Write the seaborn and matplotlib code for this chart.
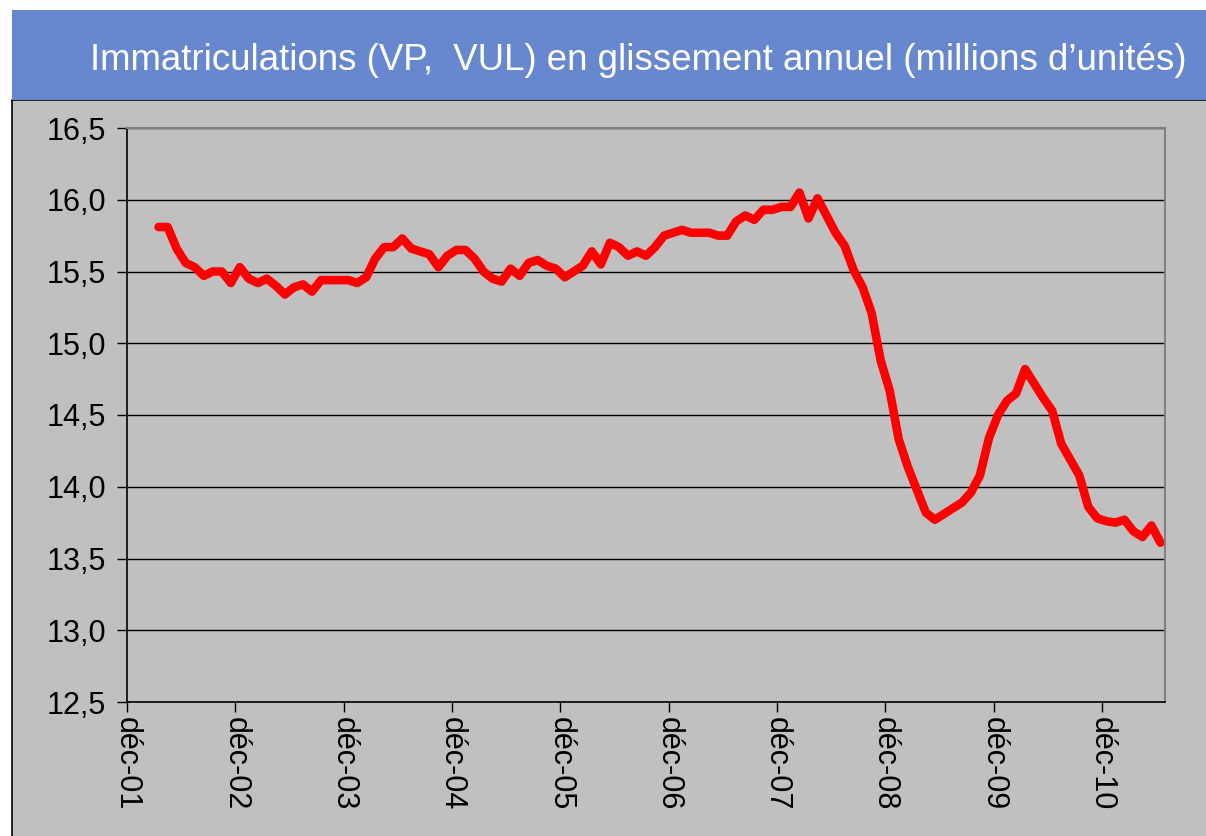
import numpy as np
import pandas as pd
import matplotlib
matplotlib.use("Agg")
import matplotlib.pyplot as plt
from matplotlib.patches import Rectangle
import seaborn as sns

# ---- data (monthly, mars-02 .. juin-11), millions of units ----
values = [
    15.81, 15.81, 15.66, 15.56, 15.53, 15.47, 15.50, 15.50, 15.42, 15.53,
    15.45, 15.42, 15.45, 15.40, 15.34, 15.39, 15.41, 15.36, 15.44, 15.44,
    15.44, 15.44, 15.42, 15.46, 15.59, 15.67, 15.67, 15.73, 15.66, 15.64,
    15.62, 15.53, 15.61, 15.65, 15.65, 15.59, 15.50, 15.45, 15.43, 15.52,
    15.47, 15.56, 15.58, 15.54, 15.52, 15.46, 15.50, 15.54, 15.64, 15.55,
    15.70, 15.67, 15.61, 15.64, 15.61, 15.67, 15.75, 15.77, 15.79, 15.77,
    15.77, 15.77, 15.75, 15.75, 15.85, 15.89, 15.86, 15.93, 15.93, 15.95,
    15.95, 16.05, 15.87, 16.01, 15.89, 15.77, 15.68, 15.51, 15.39, 15.21,
    14.88, 14.67, 14.33, 14.14, 13.98, 13.82, 13.77, 13.81, 13.85, 13.89,
    13.96, 14.08, 14.34, 14.50, 14.60, 14.65, 14.82, 14.72, 14.62, 14.53,
    14.30, 14.19, 14.08, 13.86, 13.78, 13.76, 13.75, 13.77, 13.69, 13.65,
    13.73, 13.61,
]
first_month_offset = 3          # mars-02 = 3 months after déc-01
tick_labels = ["déc-01", "déc-02", "déc-03", "déc-04", "déc-05",
               "déc-06", "déc-07", "déc-08", "déc-09", "déc-10"]
y_ticks = [12.5, 13.0, 13.5, 14.0, 14.5, 15.0, 15.5, 16.0, 16.5]
title = "Immatriculations (VP,  VUL) en glissement annuel (millions d\u2019unités)"

month_pos = np.arange(len(values)) + first_month_offset + 0.5
df = pd.DataFrame({"mois": month_pos, "immat": values})

sns.set_style("white")
plt.rcParams["font.family"] = ["Liberation Sans", "DejaVu Sans"]
plt.rcParams["text.color"] = "black"
plt.rcParams["xtick.color"] = "black"
plt.rcParams["ytick.color"] = "black"

fig = plt.figure(figsize=(12.06, 8.36), dpi=100)
fig.patch.set_facecolor("white")

# gray panel
fig.patches.append(Rectangle((12 / 1206, -0.01), 1.0, 1 - 100 / 836 + 0.01,
                             transform=fig.transFigure, facecolor="#C0C0C0",
                             edgecolor="black", linewidth=1.2, zorder=-10))
# blue title band
fig.patches.append(Rectangle((12 / 1206, 1 - 100 / 836), 1.0, 90 / 836,
                             transform=fig.transFigure, facecolor="#6788CF",
                             edgecolor="none", zorder=-10))
fig.text(90 / 1206, 1 - 61 / 836, title, color="white", fontsize=26.4,
         ha="left", va="center")

ax = fig.add_axes([127 / 1206, 1 - 702 / 836, (1165 - 127) / 1206, (702 - 128) / 836])
ax.set_zorder(5)
ax.set_facecolor("#C0C0C0")

sns.lineplot(data=df, x="mois", y="immat", ax=ax, color="#FF0000",
             linewidth=6.2, solid_joinstyle="round", solid_capstyle="round")

ax.set_xlim(0, 115)
ax.set_ylim(12.5, 16.5)
ax.set_yticks(y_ticks)
ax.set_yticklabels([f"{v:.1f}".replace(".", ",") for v in y_ticks], fontsize=22,
                   color="black")
ax.set_xticks(np.arange(len(tick_labels)) * 12)
ax.set_xticklabels(tick_labels, rotation=270, fontsize=22, ha="center", va="top",
                   color="black")
ax.set_xlabel("")
ax.set_ylabel("")
ax.grid(axis="y", color="black", linewidth=1.0)
ax.grid(axis="x", visible=False)
ax.tick_params(axis="both", direction="out", length=7, width=1, color="black",
               left=True, bottom=True)
ax.tick_params(axis="y", pad=8)
ax.tick_params(axis="x", pad=4)
for side in ["left", "bottom"]:
    ax.spines[side].set_color("black")
    ax.spines[side].set_linewidth(1.2)
for side in ["top", "right"]:
    ax.spines[side].set_color("#808080")
    ax.spines[side].set_linewidth(1.5)

fig.savefig("out.png", dpi=100, facecolor=fig.get_facecolor())
